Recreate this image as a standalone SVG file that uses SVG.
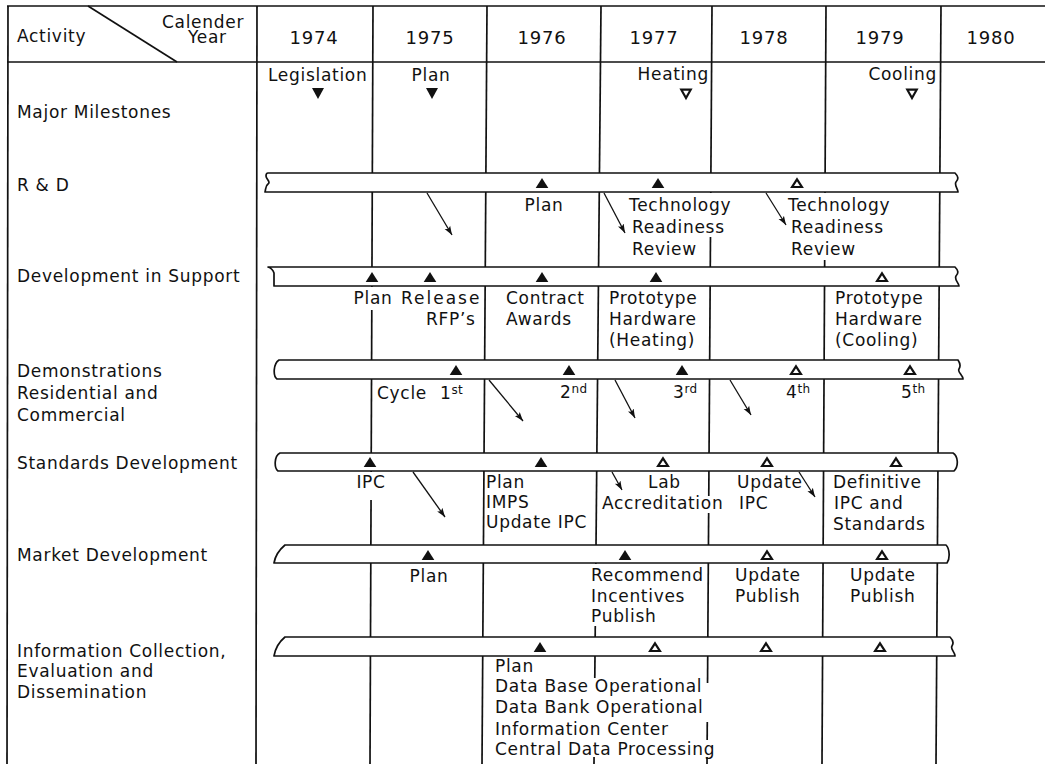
<svg xmlns="http://www.w3.org/2000/svg" width="1045" height="764" viewBox="0 0 1045 764">
<style>
.t{font-family:"DejaVu Sans","Liberation Sans",Arial,sans-serif;font-size:17px;letter-spacing:0.7px;fill:#111}
.yr{font-size:18px;letter-spacing:0.8px}
.sup{font-size:12px;letter-spacing:0.3px}
.m{text-anchor:middle}
.e{text-anchor:end}
.ln{stroke:#111;stroke-width:1.7;fill:none}
.ko{fill:#fff}
.bar{fill:#fff;stroke:#111;stroke-width:1.7;stroke-linejoin:round}
.ar{stroke:#111;stroke-width:1.3;fill:none;marker-end:url(#ah)}
.tf{fill:#111}
.to{fill:#fff;stroke:#111;stroke-width:2.2}
</style>
<defs>
<marker id="ah" markerWidth="10" markerHeight="8" refX="9" refY="4" orient="auto" markerUnits="userSpaceOnUse"><path d="M0,0.8 L9,4 L0,7.2 L2,4 Z" fill="#111"/></marker>
<path id="up" class="tf" d="M0,-5 L6.3,5 L-6.3,5 Z"/>
<path id="upo" class="to" d="M0,-3.6 L4.9,4 L-4.9,4 Z"/>
<path id="dn" class="tf" d="M-6,-5.5 L6,-5.5 L0,5.5 Z"/>
<path id="dno" class="to" d="M-4.7,-4.3 L4.7,-4.3 L0,4 Z"/>
</defs>
<rect width="1045" height="764" fill="#fff"/>
<g id="grid">
<line class="ln" x1="7" y1="6" x2="1045" y2="6"/>
<line class="ln" x1="7" y1="62" x2="1045" y2="62"/>
<line class="ln" x1="8" y1="6" x2="7" y2="764"/>
<line class="ln" x1="257" y1="6" x2="256" y2="764"/>
<line class="ln" x1="373" y1="6" x2="370" y2="764"/>
<line class="ln" x1="487" y1="6" x2="482" y2="764"/>
<line class="ln" x1="601" y1="6" x2="594" y2="764"/>
<line class="ln" x1="712" y1="6" x2="707" y2="764"/>
<line class="ln" x1="826" y1="6" x2="822" y2="764"/>
<line class="ln" x1="941" y1="6" x2="936" y2="764"/>
<line class="ln" x1="88" y1="6" x2="177" y2="62"/>
</g>
<g id="knockouts">
<rect class="ko" x="706" y="193" width="9" height="44"/>
<rect class="ko" x="820" y="193" width="9" height="67"/>
<rect class="ko" x="367" y="287" width="9" height="23"/>
<rect class="ko" x="366" y="472" width="9" height="28"/>
<rect class="ko" x="704" y="496" width="9" height="17"/>
<rect class="ko" x="591" y="564" width="9" height="62"/>
<rect class="ko" x="590" y="678" width="9" height="79"/>
<rect class="ko" x="703" y="683" width="9" height="39"/>
<rect class="ko" x="703" y="740" width="9" height="17"/>
</g>
<g id="header">
<text class="t" x="17" y="42">Activity</text>
<text class="t" x="162" y="28">Calender</text>
<text class="t" x="188" y="43">Year</text>
<text class="t yr m" x="314" y="44">1974</text>
<text class="t yr m" x="430" y="44">1975</text>
<text class="t yr m" x="542" y="44">1976</text>
<text class="t yr m" x="654" y="44">1977</text>
<text class="t yr m" x="764" y="44">1978</text>
<text class="t yr m" x="880" y="44">1979</text>
<text class="t yr m" x="991" y="44">1980</text>
</g>
<g id="row-milestones">
<text class="t" x="17" y="118">Major Milestones</text>
<text class="t" x="268" y="81">Legislation</text>
<text class="t m" x="431" y="81">Plan</text>
<text class="t e" x="709" y="80">Heating</text>
<text class="t e" x="937" y="80">Cooling</text>
<use href="#dn" x="318" y="93.5"/>
<use href="#dn" x="432" y="93.5"/>
<use href="#dno" x="686" y="94"/>
<use href="#dno" x="912" y="94"/>
</g>
<g id="row-rd">
<text class="t" x="17" y="191">R &amp; D</text>
<path class="bar" d="M268,173 H955 C958,176 959,179 956,182 C954,185 958,189 958,192 H265 C266,189 265,186 268,184 C271,182 266,179 266,176 C266,174 267,173 268,173 Z"/>
<use href="#up" x="542" y="183"/>
<use href="#up" x="658" y="183"/>
<use href="#upo" x="797" y="183"/>
<text class="t m" x="544" y="211">Plan</text>
<text class="t" x="629" y="211">Technology</text>
<text class="t" x="632" y="233">Readiness</text>
<text class="t" x="632" y="255">Review</text>
<text class="t" x="788" y="211">Technology</text>
<text class="t" x="791" y="233">Readiness</text>
<text class="t" x="791" y="255">Review</text>
</g>
<g id="row-dev">
<text class="t" x="17" y="282">Development in Support</text>
<path class="bar" d="M268,267 H955 C958,270 959,273 956,276 C954,280 959,283 959,286 H274 L274,273 C273,270 271,268 268,267 Z"/>
<use href="#up" x="372" y="277"/>
<use href="#up" x="430" y="277"/>
<use href="#up" x="542" y="277"/>
<use href="#up" x="656" y="277"/>
<use href="#upo" x="882" y="277"/>
<text class="t m" x="373" y="304">Plan</text>
<text class="t" x="401" y="304" style="letter-spacing:2px">Release</text>
<text class="t" x="426" y="325">RFP’s</text>
<text class="t" x="506" y="304">Contract</text>
<text class="t" x="506" y="325">Awards</text>
<text class="t" x="609" y="304">Prototype</text>
<text class="t" x="609" y="325">Hardware</text>
<text class="t" x="609" y="346">(Heating)</text>
<text class="t" x="835" y="304">Prototype</text>
<text class="t" x="835" y="325">Hardware</text>
<text class="t" x="835" y="346">(Cooling)</text>
</g>
<g id="row-demo">
<text class="t" x="17" y="377">Demonstrations</text>
<text class="t" x="17" y="399">Residential and</text>
<text class="t" x="17" y="421">Commercial</text>
<path class="bar" d="M279,360 H958 C960,363 961,366 959,369 C957,372 963,375 963,379 H277 C273,376 273,364 279,360 Z"/>
<use href="#up" x="456" y="370"/>
<use href="#up" x="569" y="370"/>
<use href="#up" x="682" y="370"/>
<use href="#upo" x="796" y="370"/>
<use href="#upo" x="910" y="370"/>
<text class="t" x="377" y="399">Cycle</text>
<text class="t" x="440" y="399">1<tspan class="sup" dy="-5">st</tspan></text>
<text class="t" x="560" y="398">2<tspan class="sup" dy="-5">nd</tspan></text>
<text class="t" x="673" y="398">3<tspan class="sup" dy="-5">rd</tspan></text>
<text class="t" x="786" y="398">4<tspan class="sup" dy="-5">th</tspan></text>
<text class="t" x="901" y="398">5<tspan class="sup" dy="-5">th</tspan></text>
</g>
<g id="row-std">
<text class="t" x="17" y="469">Standards Development</text>
<path class="bar" d="M280,453 H953 C958,456 959,466 954,471 H278 C274,468 274,456 280,453 Z"/>
<use href="#up" x="370" y="462"/>
<use href="#up" x="541" y="462"/>
<use href="#upo" x="663" y="462"/>
<use href="#upo" x="767" y="462"/>
<use href="#upo" x="896" y="462"/>
<text class="t m" x="371" y="488">IPC</text>
<text class="t" x="486" y="488">Plan</text>
<text class="t" x="486" y="508">IMPS</text>
<text class="t" x="486" y="528">Update IPC</text>
<text class="t" x="648" y="488">Lab</text>
<text class="t" x="602" y="509">Accreditation</text>
<text class="t" x="737" y="488">Update</text>
<text class="t" x="739" y="509">IPC</text>
<text class="t" x="833" y="488">Definitive</text>
<text class="t" x="834" y="509">IPC and</text>
<text class="t" x="833" y="530">Standards</text>
</g>
<g id="row-market">
<text class="t" x="17" y="561">Market Development</text>
<path class="bar" d="M285,545 H946 C950,549 950,559 947,563 H274 C275,557 279,550 285,545 Z"/>
<use href="#up" x="428" y="555"/>
<use href="#up" x="625" y="555"/>
<use href="#upo" x="767" y="555"/>
<use href="#upo" x="882" y="555"/>
<text class="t m" x="429" y="582">Plan</text>
<text class="t" x="591" y="581">Recommend</text>
<text class="t" x="591" y="602">Incentives</text>
<text class="t" x="591" y="622">Publish</text>
<text class="t" x="735" y="581">Update</text>
<text class="t" x="735" y="602">Publish</text>
<text class="t" x="850" y="581">Update</text>
<text class="t" x="850" y="602">Publish</text>
</g>
<g id="row-info">
<text class="t" x="17" y="657">Information Collection,</text>
<text class="t" x="17" y="677">Evaluation and</text>
<text class="t" x="17" y="698">Dissemination</text>
<path class="bar" d="M285,637 H950 C953,640 954,643 952,646 C950,649 955,652 955,656 H274 C275,650 279,642 285,637 Z"/>
<use href="#up" x="540" y="647"/>
<use href="#upo" x="655" y="647"/>
<use href="#upo" x="766" y="647"/>
<use href="#upo" x="880" y="647"/>
<text class="t" x="495" y="672">Plan</text>
<text class="t" x="495" y="692">Data Base Operational</text>
<text class="t" x="495" y="713">Data Bank Operational</text>
<text class="t" x="495" y="735">Information Center</text>
<text class="t" x="495" y="755">Central Data Processing</text>
</g>
<g id="connectors">
<line class="ar" x1="427" y1="193" x2="452" y2="235"/>
<line class="ar" x1="604" y1="193" x2="625" y2="233"/>
<line class="ar" x1="766" y1="193" x2="786" y2="225"/>
<line class="ar" x1="489" y1="380" x2="523" y2="421"/>
<line class="ar" x1="615" y1="380" x2="635" y2="418"/>
<line class="ar" x1="730" y1="380" x2="751" y2="415"/>
<line class="ar" x1="413" y1="472" x2="445" y2="517"/>
<line class="ar" x1="612" y1="472" x2="622" y2="490"/>
<line class="ar" x1="799" y1="472" x2="815" y2="497"/>
</g>
</svg>
